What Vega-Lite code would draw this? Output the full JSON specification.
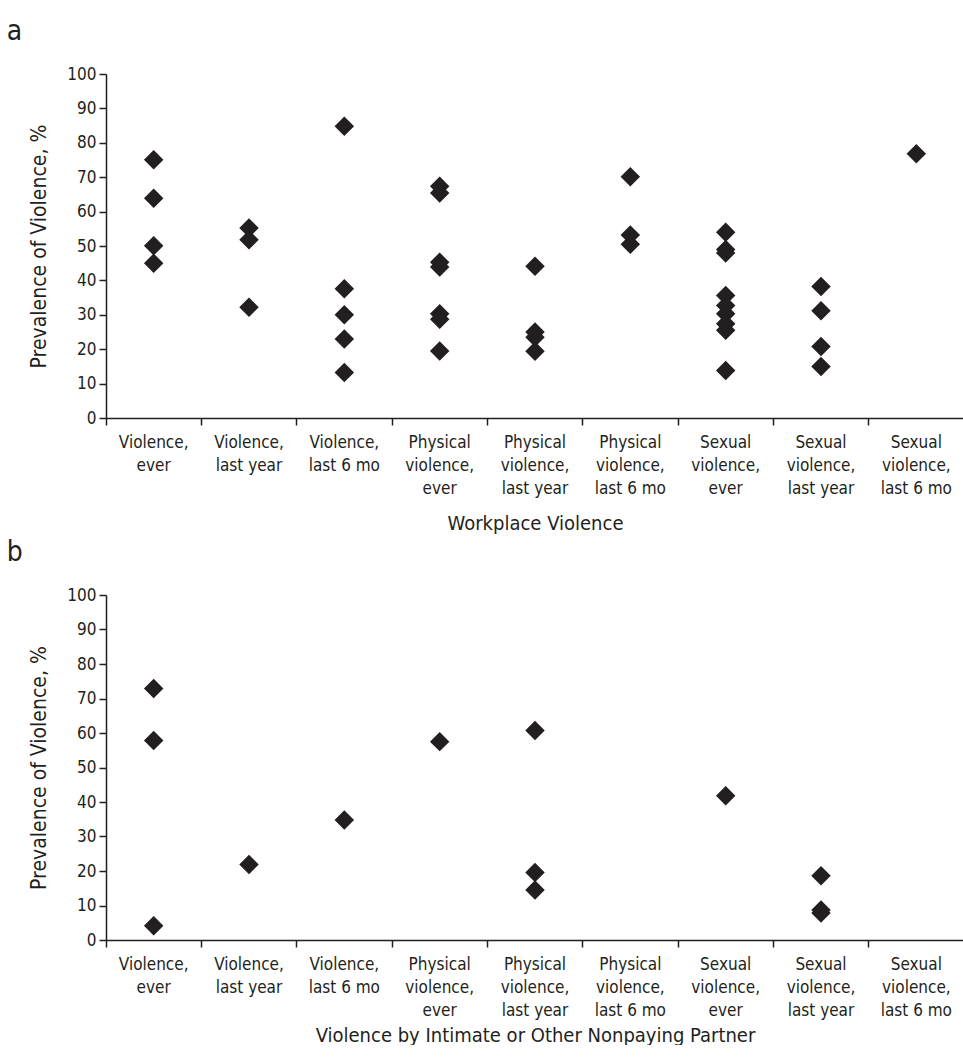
{
  "$schema": "https://vega.github.io/schema/vega-lite/v6.json",
  "padding": {"left": 6, "top": 18, "right": 0, "bottom": 0},
  "spacing": 6,
  "background": "white",
  "config": {
    "view": {"stroke": null},
    "font": "Liberation Sans Narrow, DejaVu Sans Condensed, Liberation Sans, sans-serif",
    "axis": {
      "domainColor": "#231f20",
      "tickColor": "#231f20",
      "labelColor": "#231f20",
      "titleColor": "#231f20",
      "grid": false,
      "titleFontWeight": "normal",
      "domainWidth": 1.5,
      "tickWidth": 1.5
    },
    "title": {"fontSize": 28, "fontWeight": "normal", "anchor": "start", "color": "#231f20", "dx": -22, "offset": 19}
  },
  "datasets": {
    "pts": [
      {"panel": "a", "cat": "Violence,|ever", "value": 75.1},
      {"panel": "a", "cat": "Violence,|ever", "value": 63.9},
      {"panel": "a", "cat": "Violence,|ever", "value": 50.1},
      {"panel": "a", "cat": "Violence,|ever", "value": 45.0},
      {"panel": "a", "cat": "Violence,|last year", "value": 55.2},
      {"panel": "a", "cat": "Violence,|last year", "value": 51.8},
      {"panel": "a", "cat": "Violence,|last year", "value": 32.2},
      {"panel": "a", "cat": "Violence,|last 6 mo", "value": 84.8},
      {"panel": "a", "cat": "Violence,|last 6 mo", "value": 37.6},
      {"panel": "a", "cat": "Violence,|last 6 mo", "value": 30.0},
      {"panel": "a", "cat": "Violence,|last 6 mo", "value": 23.0},
      {"panel": "a", "cat": "Violence,|last 6 mo", "value": 13.2},
      {"panel": "a", "cat": "Physical|violence,|ever", "value": 67.4},
      {"panel": "a", "cat": "Physical|violence,|ever", "value": 65.4},
      {"panel": "a", "cat": "Physical|violence,|ever", "value": 45.3},
      {"panel": "a", "cat": "Physical|violence,|ever", "value": 43.9},
      {"panel": "a", "cat": "Physical|violence,|ever", "value": 30.3},
      {"panel": "a", "cat": "Physical|violence,|ever", "value": 28.7},
      {"panel": "a", "cat": "Physical|violence,|ever", "value": 19.5},
      {"panel": "a", "cat": "Physical|violence,|last year", "value": 44.1},
      {"panel": "a", "cat": "Physical|violence,|last year", "value": 25.0},
      {"panel": "a", "cat": "Physical|violence,|last year", "value": 23.5},
      {"panel": "a", "cat": "Physical|violence,|last year", "value": 19.4},
      {"panel": "a", "cat": "Physical|violence,|last 6 mo", "value": 70.1},
      {"panel": "a", "cat": "Physical|violence,|last 6 mo", "value": 53.2},
      {"panel": "a", "cat": "Physical|violence,|last 6 mo", "value": 50.5},
      {"panel": "a", "cat": "Sexual|violence,|ever", "value": 54.0},
      {"panel": "a", "cat": "Sexual|violence,|ever", "value": 49.0},
      {"panel": "a", "cat": "Sexual|violence,|ever", "value": 48.0},
      {"panel": "a", "cat": "Sexual|violence,|ever", "value": 35.6},
      {"panel": "a", "cat": "Sexual|violence,|ever", "value": 32.7},
      {"panel": "a", "cat": "Sexual|violence,|ever", "value": 30.3},
      {"panel": "a", "cat": "Sexual|violence,|ever", "value": 27.4},
      {"panel": "a", "cat": "Sexual|violence,|ever", "value": 25.5},
      {"panel": "a", "cat": "Sexual|violence,|ever", "value": 13.8},
      {"panel": "a", "cat": "Sexual|violence,|last year", "value": 38.2},
      {"panel": "a", "cat": "Sexual|violence,|last year", "value": 31.2},
      {"panel": "a", "cat": "Sexual|violence,|last year", "value": 20.8},
      {"panel": "a", "cat": "Sexual|violence,|last year", "value": 15.0},
      {"panel": "a", "cat": "Sexual|violence,|last 6 mo", "value": 76.8},
      {"panel": "b", "cat": "Violence,|ever", "value": 72.9},
      {"panel": "b", "cat": "Violence,|ever", "value": 57.8},
      {"panel": "b", "cat": "Violence,|ever", "value": 4.1},
      {"panel": "b", "cat": "Violence,|last year", "value": 21.9},
      {"panel": "b", "cat": "Violence,|last 6 mo", "value": 34.8},
      {"panel": "b", "cat": "Physical|violence,|ever", "value": 57.5},
      {"panel": "b", "cat": "Physical|violence,|last year", "value": 60.7},
      {"panel": "b", "cat": "Physical|violence,|last year", "value": 19.6},
      {"panel": "b", "cat": "Physical|violence,|last year", "value": 14.5},
      {"panel": "b", "cat": "Sexual|violence,|ever", "value": 41.8},
      {"panel": "b", "cat": "Sexual|violence,|last year", "value": 18.6},
      {"panel": "b", "cat": "Sexual|violence,|last year", "value": 8.7},
      {"panel": "b", "cat": "Sexual|violence,|last year", "value": 7.8}
    ]
  },
  "vconcat": [
    {
      "title": "a",
      "width": 858,
      "height": 344,
      "data": {"name": "pts"},
      "transform": [{"filter": "datum.panel === 'a'"}],
      "mark": {"type": "point", "shape": "diamond", "filled": true, "opacity": 1, "size": 380, "color": "#231f20"},
      "encoding": {
        "x": {
          "field": "cat", "type": "nominal",
          "scale": {"type": "band", "paddingInner": 0, "paddingOuter": 0, "domain": ["Violence,|ever", "Violence,|last year", "Violence,|last 6 mo", "Physical|violence,|ever", "Physical|violence,|last year", "Physical|violence,|last 6 mo", "Sexual|violence,|ever", "Sexual|violence,|last year", "Sexual|violence,|last 6 mo"]},
          "axis": {"title": "Workplace Violence", "titleFontSize": 20, "titlePadding": 17, "labelAngle": 0, "labelFontSize": 17, "labelLineHeight": 23, "labelPadding": 9, "labelExpr": "split(datum.label, '|')", "bandPosition": 0, "tickSize": 7}
        },
        "y": {
          "field": "value", "type": "quantitative",
          "scale": {"domain": [0, 100], "nice": false},
          "axis": {"title": "Prevalence of Violence, %", "titleFontSize": 21, "titlePadding": 17, "values": [0, 10, 20, 30, 40, 50, 60, 70, 80, 90, 100], "labelFontSize": 17, "tickSize": 7, "labelPadding": 3}
        }
      }
    },
    {
      "title": "b",
      "width": 858,
      "height": 345,
      "data": {"name": "pts"},
      "transform": [{"filter": "datum.panel === 'b'"}],
      "mark": {"type": "point", "shape": "diamond", "filled": true, "opacity": 1, "size": 380, "color": "#231f20"},
      "encoding": {
        "x": {
          "field": "cat", "type": "nominal",
          "scale": {"type": "band", "paddingInner": 0, "paddingOuter": 0, "domain": ["Violence,|ever", "Violence,|last year", "Violence,|last 6 mo", "Physical|violence,|ever", "Physical|violence,|last year", "Physical|violence,|last 6 mo", "Sexual|violence,|ever", "Sexual|violence,|last year", "Sexual|violence,|last 6 mo"]},
          "axis": {"title": "Violence by Intimate or Other Nonpaying Partner", "titleFontSize": 20, "titlePadding": 7, "labelAngle": 0, "labelFontSize": 17, "labelLineHeight": 23, "labelPadding": 9, "labelExpr": "split(datum.label, '|')", "bandPosition": 0, "tickSize": 7}
        },
        "y": {
          "field": "value", "type": "quantitative",
          "scale": {"domain": [0, 100], "nice": false},
          "axis": {"title": "Prevalence of Violence, %", "titleFontSize": 21, "titlePadding": 17, "values": [0, 10, 20, 30, 40, 50, 60, 70, 80, 90, 100], "labelFontSize": 17, "tickSize": 7, "labelPadding": 3}
        }
      }
    }
  ]
}
